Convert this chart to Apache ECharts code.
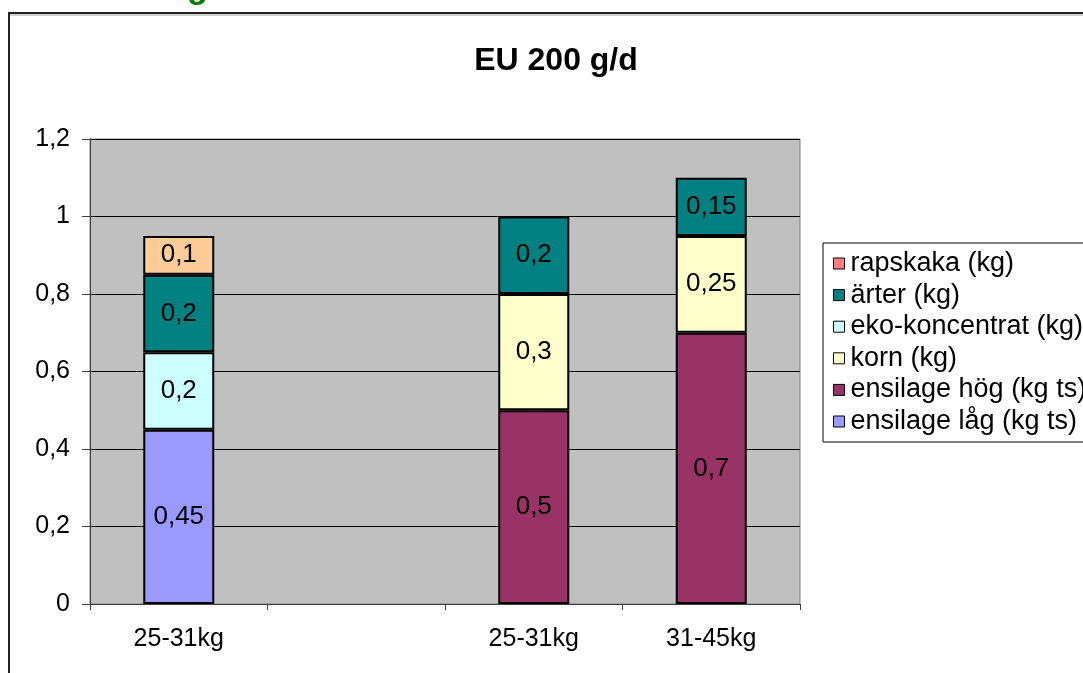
<!DOCTYPE html>
<html>
<head>
<meta charset="utf-8">
<script src="https://cdn.jsdelivr.net/npm/echarts@6/dist/echarts.min.js"></script>
<style>
  html, body { margin: 0; padding: 0; background: #fff; }
  #chart { width: 1083px; height: 673px; }
</style>
</head>
<body>
<div id="chart"></div>
<script>
// Feed ration per weight class, EU 200 g/d
const categories = ['25-31kg', '', '25-31kg', '31-45kg'];
const yTicks = [0, 0.2, 0.4, 0.6, 0.8, 1, 1.2];

// stacked from bottom to top; '-' means no component in that bar
const ensilageLag   = [0.45, '-', '-', '-'];
const ensilageHog   = ['-', '-', 0.5, 0.7];
const korn          = ['-', '-', 0.3, 0.25];
const ekoKoncentrat = [0.2, '-', '-', '-'];
const arter         = [0.2, '-', 0.2, 0.15];
const rapskaka      = [0.1, '-', '-', '-'];

const seriesDefs = [
  { name: 'ensilage låg (kg ts)', data: ensilageLag,   color: '#9999FF', legendColor: '#9999FF' },
  { name: 'ensilage hög (kg ts)', data: ensilageHog,   color: '#993366', legendColor: '#993366' },
  { name: 'korn (kg)',            data: korn,          color: '#FFFFCC', legendColor: '#FFFFCC' },
  { name: 'eko-koncentrat (kg)',  data: ekoKoncentrat, color: '#CCFFFF', legendColor: '#CCFFFF' },
  { name: 'ärter (kg)',           data: arter,         color: '#008080', legendColor: '#008080' },
  { name: 'rapskaka (kg)',        data: rapskaka,      color: '#FFCC99', legendColor: '#FF8080' }
];

const comma = v => String(v).replace('.', ',');
const FONT = 'Liberation Sans, Arial, sans-serif';

const chart = echarts.init(document.getElementById('chart'), null, { renderer: 'canvas' });

chart.setOption({
  backgroundColor: '#ffffff',
  animation: false,
  title: {
    text: 'EU 200 g/d',
    left: 551,
    top: 40,
    textAlign: 'center',
    textStyle: { fontFamily: FONT, fontSize: 32, fontWeight: 'bold', color: '#000' }
  },
  graphic: [
    // chart-area frame (right and bottom run off the page)
    {
      type: 'rect',
      shape: { x: 9, y: 13, width: 1200, height: 800 },
      style: { fill: null, stroke: '#222', lineWidth: 2 },
      z: -1
    },
    {
      type: 'line',
      shape: { x1: 10, y1: 15, x2: 1083, y2: 15 },
      style: { stroke: '#a0a0a0', lineWidth: 1 },
      z: -1
    },
    // slide heading above the chart, mostly outside the page
    {
      type: 'text',
      left: 187,
      top: -28,
      style: { text: 'g', fill: '#008000', font: 'bold 34px ' + FONT }
    }
  ],
  legend: {
    orient: 'vertical',
    left: 823,
    top: 243,
    data: seriesDefs.slice().reverse().map(s => ({
      name: s.name,
      itemStyle: { color: s.legendColor, borderColor: '#000', borderWidth: 1 }
    })),
    icon: 'rect',
    itemWidth: 11,
    itemHeight: 11,
    itemGap: 4.6,
    padding: [7, 60, 7, 10],
    borderColor: '#000',
    borderWidth: 1,
    backgroundColor: '#fff',
    selectedMode: false,
    textStyle: { fontFamily: FONT, fontSize: 27, color: '#000', padding: [0, 0, 0, 1] }
  },
  grid: {
    left: 90,
    right: 283,
    top: 139,
    bottom: 69,
    show: true,
    backgroundColor: '#C0C0C0',
    borderColor: '#808080',
    borderWidth: 1,
    containLabel: false
  },
  xAxis: {
    type: 'category',
    data: categories,
    boundaryGap: true,
    axisLine: { show: true, lineStyle: { color: '#404040', width: 1 } },
    axisTick: { show: true, alignWithLabel: false, length: 6, lineStyle: { color: '#404040' } },
    axisLabel: { fontFamily: FONT, fontSize: 25, color: '#000', margin: 23, interval: 0 }
  },
  yAxis: {
    type: 'value',
    min: yTicks[0],
    max: yTicks[yTicks.length - 1],
    interval: 0.2,
    axisLine: { show: true, lineStyle: { color: '#404040', width: 1 } },
    axisTick: { show: true, length: 8, inside: false, lineStyle: { color: '#404040' } },
    axisLabel: {
      fontFamily: FONT, fontSize: 25, color: '#000', margin: 20,
      formatter: v => comma(Math.round(v * 10) / 10)
    },
    splitLine: { show: true, lineStyle: { color: '#000', width: 1 } }
  },
  series: seriesDefs.map(s => ({
    name: s.name,
    type: 'bar',
    stack: 'ration',
    barWidth: '40%',
    data: s.data,
    itemStyle: { color: s.color, borderColor: '#000', borderWidth: 2 },
    label: {
      show: true,
      position: 'inside',
      fontFamily: FONT,
      fontSize: 26,
      color: '#000',
      formatter: p => comma(p.value)
    }
  }))
});
</script>
</body>
</html>
